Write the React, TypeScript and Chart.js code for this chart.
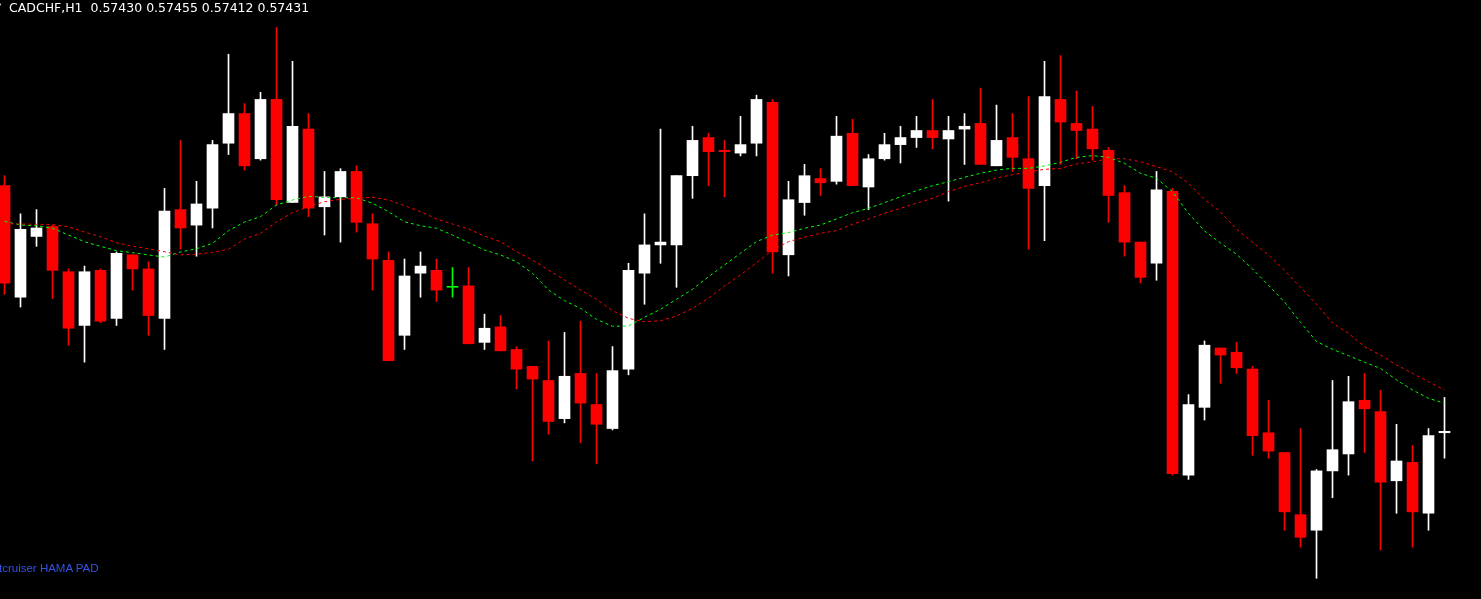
import React, { useEffect, useRef } from "react";
import { Chart, registerables } from "chart.js";

Chart.register(...registerables);

const symbolLabel = "CADCHF,H1";
const lastQuote = ["0.57430", "0.57455", "0.57412", "0.57431"];
const indicatorLabel = "tcruiser HAMA PAD";

const opens = [
  0.57605, 0.57526, 0.57569, 0.57576, 0.57544, 0.57506, 0.57545, 0.57511, 0.57556, 0.57546,
  0.57511, 0.57588, 0.57577, 0.57589, 0.57635, 0.57656, 0.57624, 0.57666, 0.57593, 0.57645,
  0.5759, 0.57597, 0.57615, 0.57578, 0.57552, 0.57499, 0.57543, 0.57545, 0.57533, 0.57534,
  0.57494, 0.57505, 0.57489, 0.57477, 0.57467, 0.5744, 0.57472, 0.5745, 0.57433, 0.57475,
  0.57543, 0.57563, 0.57563, 0.57612, 0.57639, 0.5763, 0.57628, 0.57635, 0.57664, 0.57556,
  0.57593, 0.5761, 0.57608, 0.57642, 0.57604, 0.57624, 0.57634, 0.57639, 0.57644, 0.57638,
  0.57645, 0.57649, 0.57619, 0.57639, 0.57624, 0.57605, 0.57666, 0.57649, 0.57645, 0.5763,
  0.576, 0.57565, 0.5755, 0.57601, 0.574, 0.57448, 0.5749, 0.57487, 0.57475, 0.5743,
  0.57416, 0.57372, 0.57361, 0.57403, 0.57415, 0.57453, 0.57445, 0.57396, 0.57409, 0.57373,
  0.5743,
];

const highs = [
  0.57612, 0.57585, 0.57588, 0.57577, 0.57546, 0.57548, 0.57546, 0.57558, 0.57556, 0.57551,
  0.57603, 0.57637, 0.57608, 0.57637, 0.57698, 0.57663, 0.57671, 0.57717, 0.57693, 0.57656,
  0.57615, 0.57617, 0.57619, 0.57585, 0.57558, 0.57553, 0.57558, 0.57553, 0.57547, 0.57547,
  0.57514, 0.57513, 0.57491, 0.57477, 0.57495, 0.57501, 0.57509, 0.57472, 0.57491, 0.5755,
  0.57585, 0.57645, 0.57612, 0.57647, 0.57642, 0.57637, 0.57654, 0.57669, 0.57666, 0.57608,
  0.5762, 0.57617, 0.57654, 0.57652, 0.57627, 0.57642, 0.57647, 0.57654, 0.57666, 0.57654,
  0.57656, 0.57674, 0.57662, 0.57656, 0.57668, 0.57693, 0.57697, 0.57672, 0.57661, 0.57632,
  0.57605, 0.57565, 0.57615, 0.57603, 0.57457, 0.57495, 0.5749, 0.57494, 0.57477, 0.57453,
  0.57416, 0.57433, 0.57404, 0.57467, 0.5747, 0.57472, 0.5746, 0.57436, 0.57421, 0.57433,
  0.57455,
];

const lows = [
  0.57528, 0.57519, 0.57562, 0.57525, 0.57492, 0.5748, 0.57508, 0.57506, 0.57531, 0.57499,
  0.57489, 0.5756, 0.57555, 0.57575, 0.57627, 0.57616, 0.57623, 0.57591, 0.57593, 0.57583,
  0.5757, 0.57565, 0.57572, 0.57531, 0.57481, 0.57489, 0.57526, 0.57523, 0.57526, 0.57493,
  0.57489, 0.57488, 0.57461, 0.5741, 0.57429, 0.57437, 0.57423, 0.57408, 0.57432, 0.57471,
  0.57521, 0.5755, 0.57533, 0.57596, 0.57605, 0.57597, 0.57626, 0.57626, 0.57543, 0.57541,
  0.57584, 0.57598, 0.57606, 0.57605, 0.57588, 0.57623, 0.57621, 0.57632, 0.57631, 0.57594,
  0.5762, 0.5762, 0.57619, 0.57615, 0.5756, 0.57566, 0.5762, 0.57624, 0.57623, 0.57579,
  0.57555, 0.57536, 0.57538, 0.574, 0.57397, 0.57439, 0.57465, 0.57472, 0.57414, 0.57412,
  0.57361, 0.57349, 0.57327, 0.57384, 0.574, 0.57416, 0.57347, 0.57373, 0.57349, 0.57361,
  0.57412,
];

const closes = [
  0.57536, 0.57574, 0.57575, 0.57545, 0.57504, 0.57544, 0.57509, 0.57557, 0.57546, 0.57513,
  0.57587, 0.57575, 0.57592, 0.57634, 0.57656, 0.57619, 0.57666, 0.57595, 0.57647, 0.57589,
  0.57597, 0.57615, 0.57579, 0.57553, 0.57481, 0.57541, 0.57548, 0.57531, 0.57533, 0.57493,
  0.57504, 0.57488, 0.57475, 0.57468, 0.57438, 0.5747, 0.57451, 0.57436, 0.57474, 0.57545,
  0.57563, 0.57565, 0.57612, 0.57637, 0.57629, 0.57629, 0.57634, 0.57666, 0.57558, 0.57595,
  0.57612, 0.57607, 0.5764, 0.57605, 0.57624, 0.57634, 0.57639, 0.57644, 0.57639, 0.57644,
  0.57647, 0.5762, 0.57637, 0.57625, 0.57603, 0.57668, 0.5765, 0.57644, 0.57631, 0.57598,
  0.57565, 0.5754, 0.57602, 0.57401, 0.5745, 0.57492, 0.57485, 0.57476, 0.57428, 0.57417,
  0.57374, 0.57356, 0.57403, 0.57418, 0.57452, 0.57447, 0.57395, 0.5741, 0.57374, 0.57428,
  0.57431,
];

// HAMA fast (green) line
const hamaFast = [
  0.575797, 0.575771, 0.575766, 0.575748, 0.5757, 0.575653, 0.57562, 0.575589, 0.575575, 0.575559,
  0.575544, 0.57558, 0.575603, 0.575641, 0.575731, 0.575792, 0.57583, 0.575913, 0.575948, 0.575974,
  0.575967, 0.575964, 0.575964, 0.575925, 0.575865, 0.575794, 0.575766, 0.575748, 0.5757, 0.575646,
  0.575594, 0.575559, 0.575511, 0.575429, 0.575311, 0.575235, 0.575181, 0.575103, 0.575054, 0.575056,
  0.575118, 0.575174, 0.575245, 0.575316, 0.575405, 0.575488, 0.575571, 0.575653, 0.5757, 0.575717,
  0.575748, 0.575771, 0.575814, 0.575858, 0.575889, 0.575929, 0.575971, 0.576014, 0.576049, 0.576078,
  0.576109, 0.576137, 0.57616, 0.576172, 0.576172, 0.576189, 0.576215, 0.57625, 0.576262, 0.57625,
  0.576208, 0.576137, 0.576102, 0.576007, 0.575854, 0.575729, 0.575644, 0.575564, 0.57546, 0.575344,
  0.575226, 0.575082, 0.574946, 0.574891, 0.574846, 0.574799, 0.574756, 0.574674, 0.574603, 0.574544,
  0.574509,
];

// HAMA slow (red) line
const hamaSlow = [
  0.57578, 0.575778, 0.575776, 0.575773, 0.575759, 0.575721, 0.575688, 0.575646, 0.57562, 0.575603,
  0.575582, 0.575559, 0.575564, 0.575578, 0.575599, 0.575672, 0.575712, 0.575794, 0.575858, 0.575901,
  0.575936, 0.575953, 0.57596, 0.575967, 0.575948, 0.575908, 0.575865, 0.575814, 0.575778, 0.575743,
  0.575692, 0.575653, 0.575582, 0.575523, 0.575452, 0.575382, 0.575311, 0.575245, 0.575164, 0.57511,
  0.575086, 0.575093, 0.575127, 0.575181, 0.575252, 0.575339, 0.575417, 0.575504, 0.575594, 0.575653,
  0.575684, 0.575712, 0.575731, 0.575776, 0.575814, 0.575854, 0.575889, 0.575925, 0.57596, 0.576007,
  0.576045, 0.57607, 0.576104, 0.576127, 0.576148, 0.576165, 0.576172, 0.576203, 0.576219, 0.57624,
  0.57624, 0.576219, 0.576184, 0.576148, 0.576066, 0.575952, 0.575863, 0.575741, 0.575649, 0.575559,
  0.57545, 0.57533, 0.57521, 0.575077, 0.575004, 0.574909, 0.574851, 0.57478, 0.574721, 0.574662,
  0.574603,
];

const BULL = "#ffffff";
const BEAR = "#ff0000";
const DOJI = "#00ff00";

export default function App() {
  const canvasRef = useRef<HTMLCanvasElement | null>(null);

  useEffect(() => {
    document.body.style.margin = "0";
    document.body.style.background = "#000";
    const canvas = canvasRef.current;
    if (!canvas) return;

    const idx = opens.map((_, i) => i);
    const colors = idx.map((i) =>
      closes[i] > opens[i] ? BULL : closes[i] < opens[i] ? BEAR : DOJI
    );

    const chart = new Chart(canvas, {
      type: "bar",
      data: {
        datasets: [
          {
            type: "line",
            label: "HAMA slow",
            data: idx.map((i) => ({ x: i, y: hamaSlow[i] })),
            borderColor: "#ff0000",
            borderWidth: 1,
            borderDash: [3, 3],
            pointRadius: 0,
            tension: 0,
            fill: false,
            order: 0,
          } as any,
          {
            type: "line",
            label: "HAMA fast",
            data: idx.map((i) => ({ x: i, y: hamaFast[i] })),
            borderColor: "#00ff00",
            borderWidth: 1,
            borderDash: [3, 3],
            pointRadius: 0,
            tension: 0,
            fill: false,
            order: 0,
          } as any,
          {
            type: "bar",
            label: "bodies",
            data: idx.map((i) => ({ x: i, y: [opens[i], closes[i]] })),
            backgroundColor: colors,
            borderWidth: 0,
            barThickness: 11,
            minBarLength: 1,
            grouped: false,
            order: 1,
          } as any,
          {
            type: "bar",
            label: "wicks",
            data: idx.map((i) => ({ x: i, y: [lows[i], highs[i]] })),
            backgroundColor: colors,
            borderWidth: 0,
            barThickness: 1,
            grouped: false,
            order: 2,
          } as any,
        ],
      },
      options: {
        responsive: false,
        animation: false,
        devicePixelRatio: 1,
        layout: { padding: 0 },
        plugins: {
          legend: { display: false },
          tooltip: { enabled: false },
          title: { display: false },
        },
        scales: {
          x: {
            type: "linear",
            min: -0.28125,
            max: 92.28125,
            offset: false,
            display: false,
            grid: { display: false },
          },
          y: {
            type: "linear",
            min: 0.573123,
            max: 0.577364,
            display: false,
            grid: { display: false },
          },
        },
      } as any,
    });

    return () => chart.destroy();
  }, []);

  return (
    <div
      style={{
        position: "fixed",
        left: 0,
        top: 0,
        width: 1481,
        height: 599,
        background: "#000",
        overflow: "hidden",
      }}
    >
      <canvas ref={canvasRef} width={1481} height={599} style={{ display: "block" }} />
      <div
        style={{
          position: "absolute",
          left: -5,
          top: 2,
          color: "#ffffff",
          font: "8px 'DejaVu Sans'",
        }}
      >
        ▼
      </div>
      <div
        style={{
          position: "absolute",
          left: 9,
          top: 0,
          color: "#ffffff",
          font: "12.5px 'DejaVu Sans'",
          lineHeight: "15px",
          whiteSpace: "pre",
        }}
      >
        {`${symbolLabel}  ${lastQuote.join(" ")}`}
      </div>
      <div
        style={{
          position: "absolute",
          left: -1,
          top: 562,
          color: "#3352e6",
          font: "11.5px 'Liberation Sans'",
          lineHeight: "13px",
          whiteSpace: "pre",
        }}
      >
        {indicatorLabel}
      </div>
    </div>
  );
}
